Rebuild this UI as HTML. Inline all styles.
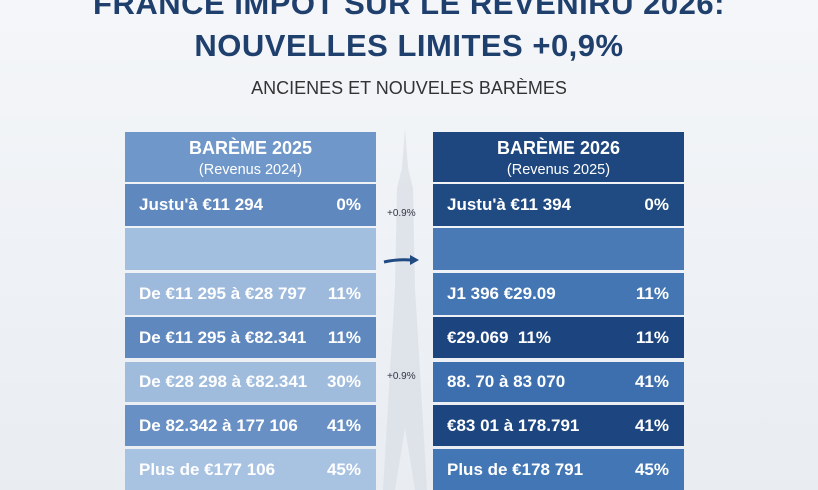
<!DOCTYPE html>
<html><head><meta charset="utf-8"><style>
body{margin:0;width:818px;height:490px;overflow:hidden;background:linear-gradient(#f4f6f9,#e9edf2);font-family:"Liberation Sans",sans-serif;position:relative}
.t{position:absolute;left:0;width:818px;text-align:center;color:#1f3f6d;font-weight:bold;font-size:31px;letter-spacing:0.5px}
.sub{position:absolute;left:0;width:818px;top:78px;text-align:center;color:#333;font-size:18px}
.c{position:absolute;color:#fff;font-weight:bold;font-size:17px;box-sizing:border-box}
.h{text-align:center}
.h b{display:block;font-size:18px;margin-top:6px}
.h span{display:block;font-weight:normal;font-size:14.5px;margin-top:3px}
.r{display:flex;justify-content:space-between;align-items:center;padding:0 15px 0 14px}
.sm{position:absolute;font-size:10px;color:#334}
</style></head><body>
<div class="t" style="top:-14px">FRANCE IMPOT SUR LE REVENIRU 2026:</div>
<div class="t" style="top:28px">NOUVELLES LIMITES +0,9%</div>
<div class="sub">ANCIENES ET NOUVELES BARÈMES</div>
<svg style="position:absolute;left:375px;top:128px" width="60" height="362"><path d="M30 0 L27 40 L22 60 L20 160 L8 362 L20 362 L30 300 L40 362 L52 362 L40 160 L38 60 L33 40 Z" fill="#d9dee5" opacity="0.7"/></svg>

<div class="c h" style="left:125px;top:132px;width:251px;height:50px;background:#6f97c9"><b>BARÈME 2025</b><span>(Revenus 2024)</span></div>
<div class="c r" style="left:125px;top:184px;width:251px;height:42px;background:#5f88bf"><span>Justu'à €11 294</span><span>0%</span></div>
<div class="c r" style="left:125px;top:228px;width:251px;height:42px;background:#a3bfe0"></div>
<div class="c r" style="left:125px;top:273px;width:251px;height:42px;background:#9db9dc"><span>De €11 295 à €28 797</span><span>11%</span></div>
<div class="c r" style="left:125px;top:317px;width:251px;height:41px;background:#5f88be"><span>De €11 295 à €82.341</span><span>11%</span></div>
<div class="c r" style="left:125px;top:362px;width:251px;height:40px;background:#a0bcdd"><span>De €28 298 à €82.341</span><span>30%</span></div>
<div class="c r" style="left:125px;top:405px;width:251px;height:41px;background:#6890c4"><span>De 82.342 à 177 106</span><span>41%</span></div>
<div class="c r" style="left:125px;top:449px;width:251px;height:41px;background:#a8c2e2"><span>Plus de €177 106</span><span>45%</span></div>

<div class="c h" style="left:433px;top:132px;width:251px;height:50px;background:#1e477f"><b>BARÈME 2026</b><span>(Revenus 2025)</span></div>
<div class="c r" style="left:433px;top:184px;width:251px;height:42px;background:#1f4a82"><span>Justu'à €11 394</span><span>0%</span></div>
<div class="c r" style="left:433px;top:228px;width:251px;height:42px;background:#4a7ab5"></div>
<div class="c r" style="left:433px;top:273px;width:251px;height:42px;background:#4376b3"><span>J1 396 €29.09</span><span>11%</span></div>
<div class="c r" style="left:433px;top:317px;width:251px;height:41px;background:#1c4580"><span>€29.069 &nbsp;11%</span><span>11%</span></div>
<div class="c r" style="left:433px;top:362px;width:251px;height:40px;background:#3d6faf"><span>88. 70 à 83 070</span><span>41%</span></div>
<div class="c r" style="left:433px;top:405px;width:251px;height:41px;background:#1d4681"><span>€83 01 à 178.791</span><span>41%</span></div>
<div class="c r" style="left:433px;top:449px;width:251px;height:41px;background:#4276b4"><span>Plus de €178 791</span><span>45%</span></div>

<div class="sm" style="left:387px;top:208px">+0.9%</div>
<div class="sm" style="left:387px;top:371px">+0.9%</div>
<svg style="position:absolute;left:382px;top:252px" width="40" height="16"><path d="M2 10 Q15 7 30 8" stroke="#1f4a82" stroke-width="3" fill="none"/><path d="M28 3 L37 8 L28 13Z" fill="#1f4a82"/></svg>
</body></html>
